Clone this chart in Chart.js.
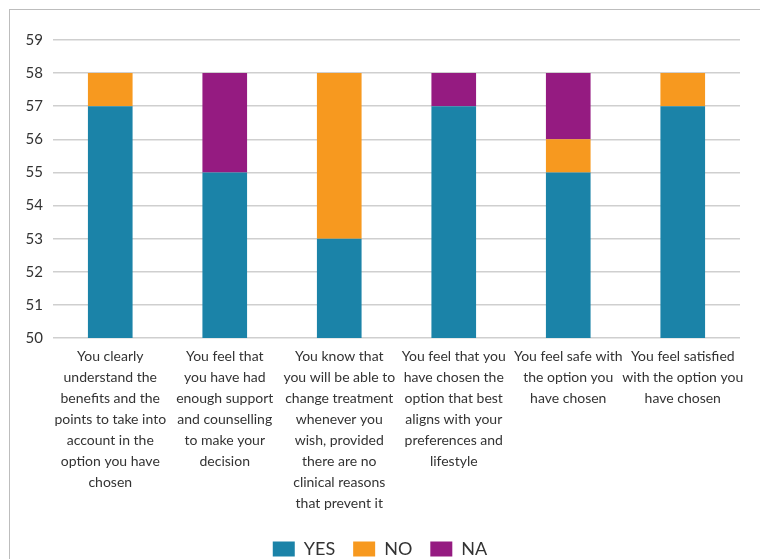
<!DOCTYPE html>
<html><head><meta charset="utf-8">
<script src="https://cdn.jsdelivr.net/npm/chart.js@4"></script>
<style>
html,body{margin:0;padding:0;background:#fff;}
#wrap{position:relative;width:760px;height:559px;overflow:hidden;}
#frame{position:absolute;left:9px;top:9px;width:800px;height:600px;border:1.5px solid #bdbdbd;box-sizing:border-box;}
canvas{position:absolute;left:0;top:0;}
</style></head>
<body>
<div id="wrap"><div id="frame"></div><canvas id="c" width="760" height="559"></canvas></div>
<script>
const categories = [
  ["You clearly","understand the","benefits and the","points to take into","account in the","option you have","chosen"],
  ["You feel that","you have had","enough support","and counselling","to make your","decision"],
  ["You know that","you will be able to","change treatment","whenever you","wish, provided","there are no","clinical reasons","that prevent it"],
  ["You feel that you","have chosen the","option that best","aligns with your","preferences and","lifestyle"],
  ["You feel safe with","the option you","have chosen"],
  ["You feel satisfied","with the option you","have chosen"]
];
const yesValues = [57, 55, 53, 57, 55, 57];
const noValues  = [1, 0, 5, 0, 1, 1];
const naValues  = [0, 3, 0, 1, 2, 0];
const seriesNames = ["YES", "NO", "NA"];
const yMin = 50, yMax = 59;

const yesBase = yesValues.map(v => [yMin, v]);
const noBars = yesValues.map((v, i) => noValues[i] ? [v, v + noValues[i]] : null);
const naBars = yesValues.map((v, i) => naValues[i] ? [v + noValues[i], v + noValues[i] + naValues[i]] : null);

const FONT = "Lato, 'Open Sans', sans-serif";
new Chart(document.getElementById('c'), {
  type: 'bar',
  data: {
    labels: categories,
    datasets: [
      {label: seriesNames[0], data: yesBase, backgroundColor: '#1B83A8', barPercentage: 0.39, categoryPercentage: 1, grouped: false},
      {label: seriesNames[1], data: noBars, backgroundColor: '#F7991F', barPercentage: 0.39, categoryPercentage: 1, grouped: false},
      {label: seriesNames[2], data: naBars, backgroundColor: '#951B81', barPercentage: 0.39, categoryPercentage: 1, grouped: false}
    ]
  },
  options: {
    responsive: false,
    animation: false,
    layout: {padding: {left: 20, right: 20, top: 40, bottom: -9}},
    plugins: {
      tooltip: {enabled: false},
      legend: {
        position: 'bottom',
        labels: {
          boxWidth: 22, boxHeight: 15, padding: 18,
          color: '#333', font: {family: FONT, size: 18}
        }
      }
    },
    scales: {
      x: {
        grid: {display: false},
        border: {display: false},
        ticks: {
          color: '#333', autoSkip: false, maxRotation: 0, minRotation: 0, padding: 0,
          font: {family: FONT, size: 14, lineHeight: 1.5}
        },
        afterFit(s) { s.height = 184; }
      },
      y: {
        min: yMin, max: yMax,
        grid: {color: '#cfcfcf', lineWidth: 1.5, drawTicks: false},
        border: {display: false},
        ticks: {stepSize: 1, color: '#333', padding: 10, font: {family: FONT, size: 15}},
        afterFit(s) { s.width = 33; }
      }
    }
  }
});
</script>
</body></html>
